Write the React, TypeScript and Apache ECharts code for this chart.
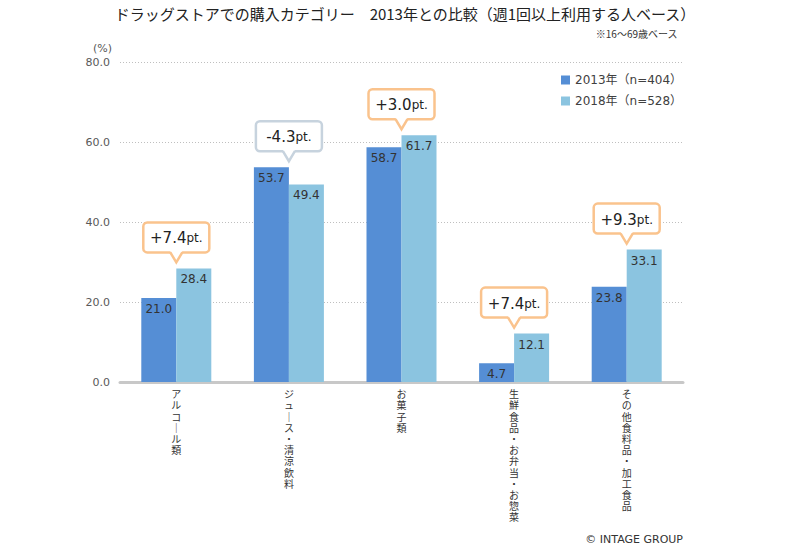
import React, { useEffect, useRef } from "react";
import * as echarts from "echarts";

const categories = [
  "アルコール類",
  "ジュース・清涼飲料",
  "お菓子類",
  "生鮮食品・お弁当・お惣菜",
  "その他食料品・加工食品",
];
const series2013 = [21.0, 53.7, 58.7, 4.7, 23.8];
const series2018 = [28.4, 49.4, 61.7, 12.1, 33.1];
const seriesNames = ["2013年（n=404）", "2018年（n=528）"];
const yTicks = [0, 20, 40, 60, 80];

const JP = "'Noto Sans CJK JP', 'DejaVu Sans', sans-serif";
const NUM = "'DejaVu Sans', 'Noto Sans CJK JP', sans-serif";

export default function App() {
  const ref = useRef<HTMLDivElement>(null);
  useEffect(() => {
    if (!ref.current) return;
    const chart = echarts.init(ref.current, undefined, { renderer: "svg" });
    const calloutData = categories.map((_, i) => {
      const d = series2018[i] - series2013[i];
      const label = (d >= 0 ? "+" : "-") + Math.abs(d).toFixed(1);
      return [i, Math.max(series2013[i], series2018[i]), label, d >= 0 ? 1 : 0];
    });
    chart.setOption({
      animation: false,
      textStyle: { fontFamily: JP },
      title: [
        {
          text: "ドラッグストアでの購入カテゴリー　2013年との比較（週1回以上利用する人ベース）",
          left: 400,
          textAlign: "center",
          top: 1,
          textStyle: { fontFamily: JP, fontSize: 15, fontWeight: "normal", color: "#222" },
        },
        {
          text: "※16～69歳ベース",
          right: 117,
          top: 23,
          textStyle: { fontFamily: JP, fontSize: 10, fontWeight: "normal", color: "#333" },
        },
        {
          text: "(%)",
          left: 88,
          top: 38,
          textStyle: { fontFamily: NUM, fontSize: 11, fontWeight: "normal", color: "#595959" },
        },
      ],
      graphic: [
        {
          type: "text",
          right: 117,
          top: 534,
          style: {
            text: "© INTAGE GROUP",
            fontFamily: NUM,
            fontSize: 11,
            fill: "#333",
          },
        },
      ],
      legend: {
        orient: "vertical",
        left: 556,
        top: 69,
        itemWidth: 9,
        itemHeight: 9,
        itemGap: 9,
        icon: "rect",
        data: seriesNames,
        textStyle: { fontFamily: NUM, fontSize: 12, color: "#404040" },
      },
      grid: { left: 120, right: 117, top: 62, bottom: 166, containLabel: false },
      xAxis: {
        type: "category",
        data: categories,
        axisTick: { show: false },
        axisLine: { lineStyle: { color: "#c8c8c8", width: 3 } },
        axisLabel: {
          interval: 0,
          margin: 6,
          fontFamily: JP,
          fontSize: 10,
          lineHeight: 11.2,
          color: "#333",
          verticalAlign: "top",
          formatter: (v: string) =>
            v
              .split("")
              .map((c) => (c === "ー" ? "｜" : c))
              .join("\n"),
        },
      },
      yAxis: {
        type: "value",
        min: yTicks[0],
        max: yTicks[yTicks.length - 1],
        interval: 20,
        axisLine: { show: false },
        axisTick: { show: false },
        axisLabel: {
          margin: 10,
          fontFamily: NUM,
          fontSize: 11,
          color: "#595959",
          formatter: (v: number) => v.toFixed(1),
        },
        splitLine: { lineStyle: { color: "#bfbfbf", type: [1, 2], width: 1 } },
      },
      series: [
        {
          name: seriesNames[0],
          type: "bar",
          data: series2013,
          barWidth: 35,
          barGap: "0%",
          itemStyle: { color: "#558ED5" },
          label: {
            show: true,
            position: "insideTop",
            distance: 5,
            fontFamily: NUM,
            fontSize: 12,
            color: "#333",
            formatter: (p: any) => Number(p.value).toFixed(1),
          },
        },
        {
          name: seriesNames[1],
          type: "bar",
          data: series2018,
          barWidth: 35,
          barGap: "0%",
          itemStyle: { color: "#8BC4E0" },
          label: {
            show: true,
            position: "insideTop",
            distance: 5,
            fontFamily: NUM,
            fontSize: 12,
            color: "#333",
            formatter: (p: any) => Number(p.value).toFixed(1),
          },
        },
        {
          type: "custom",
          z: 10,
          clip: false,
          silent: true,
          data: calloutData,
          encode: { x: 0, y: 1 },
          renderItem: (params: any, api: any) => {
            const idx = api.value(0);
            const val = api.value(1);
            const pos = params.dataIndex;
            const item = calloutData[pos];
            const label = item[2] as string;
            const positive = item[3] === 1;
            const pt = api.coord([idx, val]);
            const cx = pt[0];
            const tipY = pt[1] - 6;
            const pH = 10;
            const pW = 6;
            const bH = 30;
            const bW = 66;
            const bBottom = tipY - pH;
            const bTop = bBottom - bH;
            const color = positive ? "#FAC38D" : "#C7D3DE";
            return {
              type: "group",
              children: [
                {
                  type: "rect",
                  shape: { x: cx - bW / 2, y: bTop, width: bW, height: bH, r: 4 },
                  style: { fill: "#fff", stroke: color, lineWidth: 2.5 },
                },
                {
                  type: "polygon",
                  shape: {
                    points: [
                      [cx - pW, bBottom - 1.5],
                      [cx + pW, bBottom - 1.5],
                      [cx, tipY],
                    ],
                  },
                  style: { fill: "#fff", stroke: null },
                },
                {
                  type: "polyline",
                  shape: {
                    points: [
                      [cx - pW, bBottom],
                      [cx, tipY],
                      [cx + pW, bBottom],
                    ],
                  },
                  style: { fill: null, stroke: color, lineWidth: 2.5 },
                },
                {
                  type: "text",
                  x: cx,
                  y: bTop + bH / 2 + 1,
                  style: {
                    text: "{a|" + label + "}{b|pt.}",
                    align: "center",
                    verticalAlign: "middle",
                    rich: {
                      a: { fontFamily: NUM, fontSize: 15, fill: "#222" },
                      b: { fontFamily: NUM, fontSize: 12, fill: "#222" },
                    },
                  },
                },
              ],
            };
          },
        },
      ],
    });
    return () => chart.dispose();
  }, []);
  return (
    <div
      ref={ref}
      style={{ position: "absolute", left: 0, top: 0, width: 800, height: 548 }}
    />
  );
}
